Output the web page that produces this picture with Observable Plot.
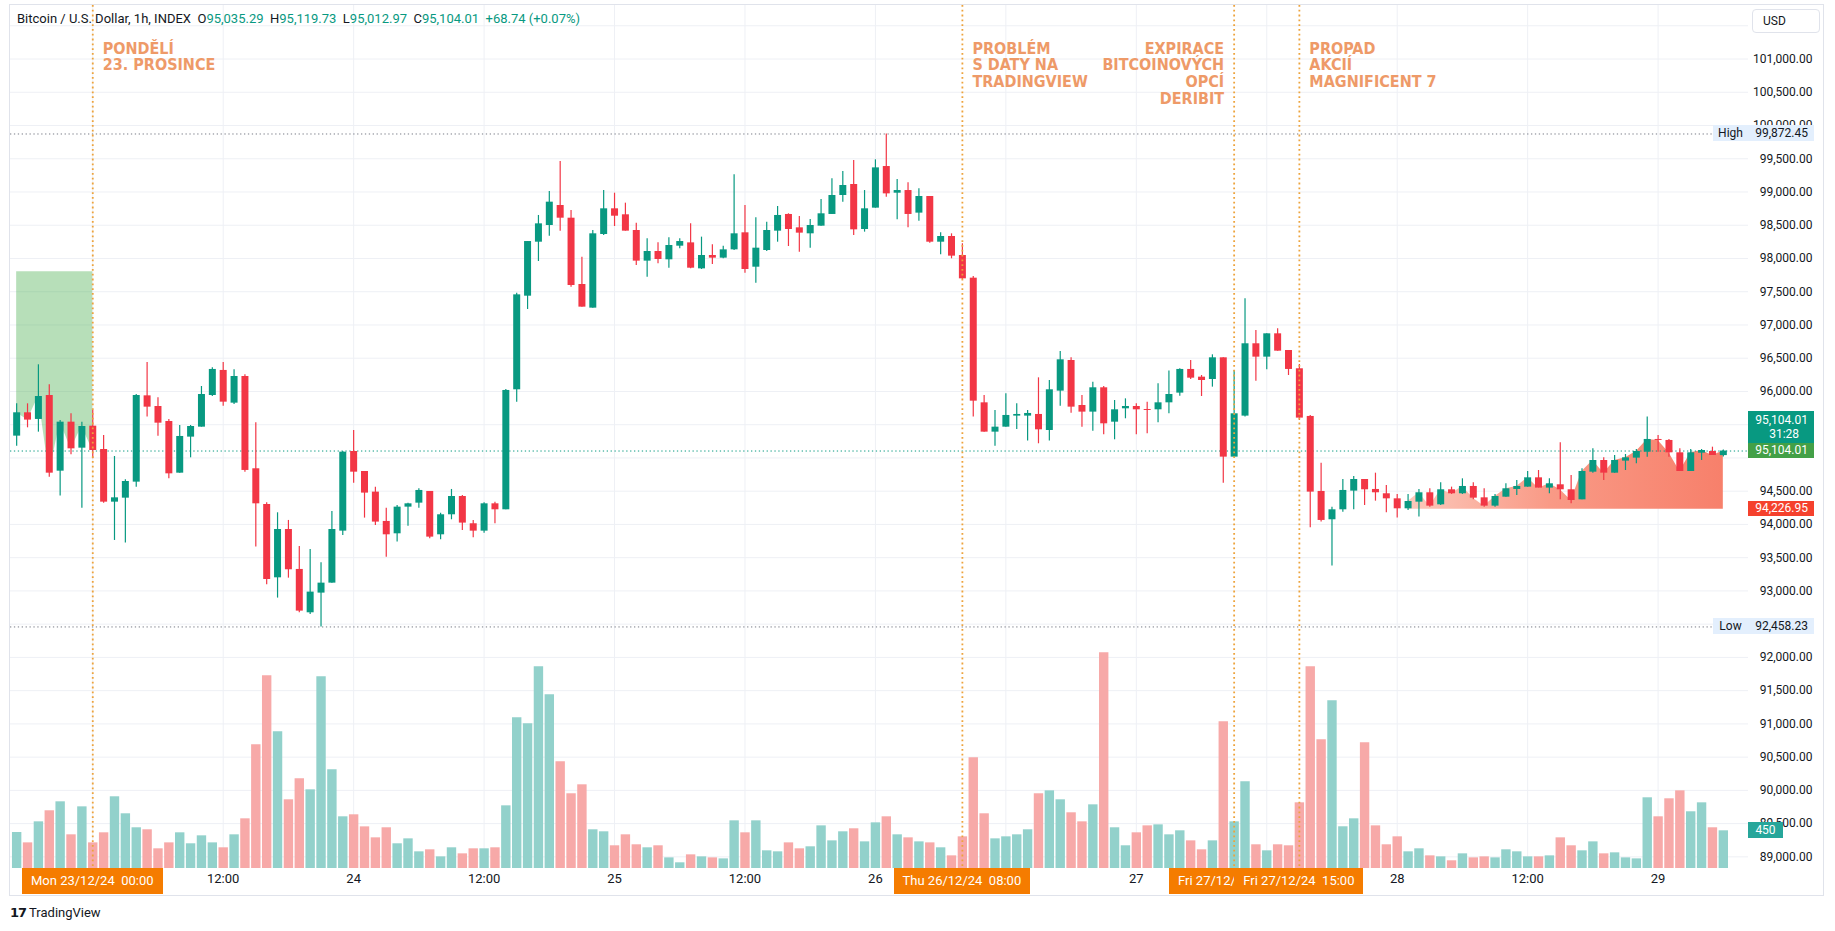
<!DOCTYPE html>
<html>
<head>
<meta charset="utf-8">
<script src="https://cdn.jsdelivr.net/npm/d3@7"></script>
<script src="https://cdn.jsdelivr.net/npm/@observablehq/plot@0.6"></script>
<style>
  html,body{margin:0;padding:0;background:#fff;}
  #wrap{position:relative;width:1835px;height:931px;overflow:hidden;font-family:Roboto,"Noto Sans",sans-serif;color:#131722;}
  #wrap > svg{position:absolute;left:0;top:0;}
  .ov{position:absolute;white-space:pre;box-sizing:border-box;}
  .plbl{position:absolute;left:1748px;width:66px;font-size:12px;height:15px;line-height:15px;text-align:right;padding-right:6px;box-sizing:border-box;white-space:pre;}
  .tbox{position:absolute;top:868px;height:26px;line-height:26px;padding:0 9px;background:#f57c00;color:#fff;font-size:13px;white-space:pre;box-sizing:border-box;overflow:hidden;}
</style>
</head>
<body>
<div id="wrap"></div>
<script>
// ---------------- data (hourly candles, Dec 22 17:00 -> Dec 29 06:00) ----------------
const opens = [95328,95679,95579,95939,94801,95538,95147,95478,95127,94335,94395,94636,95934,95774,95548,94771,95313,95463,95939,96316,95824,96225,94837,94300,93197,93924,93323,92671,92967,93117,93899,95097,94796,94486,94045,93859,94260,94320,94496,93844,94145,94420,94010,93899,94310,94220,96025,97433,98245,98496,98797,98606,97609,97253,98361,98747,98657,98421,97960,98105,97980,98185,98235,97844,98045,98005,98130,98386,97869,98120,98411,98662,98461,98371,98486,98662,98947,99113,98436,98757,99383,98982,99022,98682,98932,98245,98331,98045,97704,95829,95388,95463,95629,95629,95654,95413,96005,96466,95789,95689,96055,95538,95739,95774,95729,95724,95829,95975,96331,96215,96180,96506,95012,95629,96717,96516,96867,96616,96341,95624,94496,94070,94220,94501,94676,94526,94461,94385,94235,94335,94476,94295,94521,94461,94571,94400,94275,94410,94526,94561,94701,94546,94596,94521,94370,94786,94962,94771,94952,94997,95087,95278,95263,95077,94796,95072,95097,95035.29];
const highs = [95814,95814,96401,96100,95563,95664,95538,95714,95338,95022,94671,95954,96436,95904,95579,95488,95488,96075,96356,96436,96326,96250,95528,94325,94175,94060,93669,93624,93423,94195,95097,95413,94796,94561,94245,94285,94320,94536,94496,94170,94526,94436,94060,94325,94335,96030,97478,98255,98647,99007,99459,98722,98020,98421,99022,98982,98832,98531,98296,98235,98311,98296,98521,98321,98205,98185,99258,98797,98611,98546,98782,98672,98631,98586,98887,99198,99308,99474,99022,99484,99872.45,99188,99138,99048,98932,98386,98371,98220,97729,95939,95714,95965,95814,95714,96205,96165,96601,96506,95939,96140,96075,95864,95889,95814,95839,96115,96306,96341,96466,96240,96551,96506,96316,97393,96917,96867,96942,96616,96406,95639,94922,94260,94676,94721,94676,94771,94586,94451,94451,94526,94536,94626,94561,94686,94626,94536,94451,94611,94661,94796,94811,94686,95228,94736,94837,95137,95002,95037,95052,95127,95614,95338,95278,95137,95127,95127,95162,95119.73];
const lows = [95177,95453,95388,94711,94426,95047,94245,94987,94320,93759,93719,94561,95614,95328,94686,94771,95002,95463,95924,95779,95804,94786,93659,93092,92892,93192,92671,92646,92458.23,93117,93834,94621,94095,93984,93508,93734,93974,94245,93784,93769,94070,93909,93799,93869,94010,94220,95839,97233,97955,98336,98411,97569,97268,97253,98346,98481,98411,97895,97719,97920,97854,98145,97844,97834,97910,97995,98120,97779,97629,98105,98245,98180,98095,98155,98486,98662,98847,98346,98396,98757,98922,98581,98461,98561,98230,98055,97995,97679,95614,95388,95177,95463,95428,95253,95213,95253,95779,95674,95463,95403,95348,95273,95589,95348,95363,95528,95664,95929,96180,95924,96065,94621,95012,95614,96155,96326,96606,96240,95563,93949,94035,93373,94185,94220,94285,94350,94175,94095,94210,94110,94260,94285,94451,94451,94370,94260,94260,94410,94435,94561,94546,94461,94370,94310,94370,94771,94661,94771,94811,94912,95012,95087,95012,94796,94796,94962,95037,95012.97];
const closes = [95679,95569,95924,94771,95538,95137,95473,95112,94335,94400,94646,95939,95764,95523,94761,95323,95473,95954,96331,95839,96225,94812,94310,93172,93924,93318,92696,92982,93117,93924,95087,94786,94471,94035,93844,94260,94310,94511,93809,94145,94420,94020,93899,94310,94220,96015,97453,98255,98521,98847,98606,97594,97268,98371,98747,98636,98411,97960,98105,97985,98195,98255,97854,98045,98005,98130,98371,97834,98155,98421,98647,98436,98381,98496,98672,98947,99098,98431,98747,99363,98972,99022,98662,98932,98245,98331,98035,97694,95854,95388,95463,95639,95654,95669,95423,96025,96476,95764,95689,96055,95513,95724,95774,95724,95714,95829,95954,96331,96200,96165,96506,95012,95664,96717,96516,96867,96606,96331,95599,94486,94060,94220,94511,94676,94521,94476,94385,94235,94345,94476,94275,94521,94461,94571,94395,94275,94420,94536,94571,94701,94546,94611,94521,94360,94796,94962,94771,94962,95002,95097,95278,95263,95077,94796,95077,95112,95037,95104.01];
const volumes = [430,306,557,689,796,402,736,306,426,856,653,486,462,235,306,426,295,390,306,247,402,593,1477,2300,1632,820,1071,939,2289,1178,617,641,497,366,486,295,354,199,223,139,247,175,235,235,247,748,1799,1727,2408,2074,1274,892,999,462,438,271,402,283,247,271,127,68,163,139,127,115,569,426,569,211,199,306,235,259,509,330,438,474,318,545,617,402,366,318,306,247,151,378,1321,653,354,378,402,462,892,927,820,665,557,760,2575,486,271,426,509,521,402,450,330,223,330,1751,557,1035,283,211,283,271,784,2408,1536,2002,498,593,1500,509,283,378,199,235,151,139,92,175,127,139,127,223,199,139,139,151,366,271,211,318,175,187,127,115,844,617,832,927,677,784,486,450];

// price-axis labels shown (95,000 and 95,500 sit under the last-price tags in the reference)
const priceTicks = [89000,89500,90000,90500,91000,91500,92000,92500,93000,93500,94000,94500,96000,96500,97000,97500,98000,98500,99000,99500,100000,100500,101000];
const gridPrices = [89000,89500,90000,90500,91000,91500,92000,92500,93000,93500,94000,94500,95000,95500,96000,96500,97000,97500,98000,98500,99000,99500,100000,100500,101000,101500];
const gridTimes = [[2024,11,23,0],[2024,11,23,12],[2024,11,24,0],[2024,11,24,12],[2024,11,25,0],[2024,11,25,12],[2024,11,26,0],[2024,11,26,12],[2024,11,27,0],[2024,11,27,12],[2024,11,28,0],[2024,11,28,12],[2024,11,29,0]];
// time-axis labels visible (others are under the orange date tags)
const timeTicks = [[2024,11,23,12],[2024,11,24,0],[2024,11,24,12],[2024,11,25,0],[2024,11,25,12],[2024,11,26,0],[2024,11,27,0],[2024,11,28,0],[2024,11,28,12],[2024,11,29,0]];
const timeLabels = ["12:00","24","12:00","25","12:00","26","27","28","12:00","29"];

const eventTimes = [[2024,11,23,0],[2024,11,26,8],[2024,11,27,9],[2024,11,27,15]];
const eventNotes = ["PONDĚLÍ\n23. PROSINCE","PROBLÉM\nS DATY NA\nTRADINGVIEW","EXPIRACE\nBITCOINOVÝCH\nOPCÍ\nDERIBIT","PROPAD\nAKCIÍ\nMAGNIFICENT 7"];
const eventRightAligned = [false,false,true,false];
const eventBoxLabels = ["Mon 23/12/24  00:00","Thu 26/12/24  08:00","Fri 27/12/24  09:00","Fri 27/12/24  15:00"];

const highValue = 99872.45, lowValue = 92458.23, lastValue = 95104.01;
const greenZoneTop = 97800;       // shaded zone before Monday
const redZoneBase = 94226.95;     // shaded zone on the weekend
const greenZoneRange = [0, 8];    // candle index range
const redZoneRange = [128, 158];
const lastVolumeLabel = "450";
const countdown = "31:28";
const header = {name:"Bitcoin / U.S. Dollar, 1h, INDEX", o:"95,035.29", h:"95,119.73", l:"95,012.97", c:"95,104.01", chg:"+68.74 (+0.07%)"};

// ---------------- setup ----------------
const W = 1835, H = 931;
const ML = 10, MR = 87, MT = 5, MB = 63;
const HOUR = 3600e3;
const firstCandle = Date.UTC(2024, 11, 22, 17);
const xDomain = [new Date(Date.UTC(2024,11,22,16,26)), new Date(Date.UTC(2024,11,29,8,19))];
const yDomain = [88825, 101805];
const UP = "#089981", DOWN = "#f23645", VUP = "#92d1cb", VDOWN = "#f7a9a8";
const toDate = a => new Date(Date.UTC(...a));

const candles = opens.map((o, i) => ({
  t: new Date(firstCandle + i * HOUR), o, h: highs[i], l: lows[i], c: closes[i], v: volumes[i], up: closes[i] >= o
}));
const events = eventTimes.map((a, i) => ({t: toDate(a), note: eventNotes[i], right: eventRightAligned[i], box: eventBoxLabels[i]}));
const ticks = timeTicks.map((a, i) => ({t: toDate(a), label: timeLabels[i]}));

const base = {width: W, height: H, marginLeft: ML, marginRight: MR, marginTop: MT, marginBottom: MB,
  x: {type: "utc", domain: xDomain, axis: null}, style: {background: "transparent", overflow: "visible"}};

const wrap = document.getElementById("wrap");

// layer 1: grid
const gridPlot = Plot.plot({...base, y: {domain: yDomain, axis: null}, marks: [
  Plot.ruleY(gridPrices, {stroke: "#eef0f5"}),
  Plot.ruleX(gridTimes.map(toDate), {stroke: "#eef0f5"})
]});
wrap.appendChild(gridPlot);

// layer 2: volume
const volPlot = Plot.plot({...base, marginTop: 114, y: {domain: [0, 9000], axis: null}, color: {type: "identity"}, marks: [
  Plot.ruleX(candles, {x: "t", y1: 0, y2: "v", stroke: d => d.up ? VUP : VDOWN, strokeWidth: 9.4})
]});
wrap.appendChild(volPlot);

// layer 3: price
const annFont = "'Liberation Sans Narrow','Arial Narrow','DejaVu Sans Condensed',Roboto,sans-serif";
const pricePlot = Plot.plot({...base, y: {domain: yDomain, axis: null}, color: {type: "identity"},
  style: {background: "transparent", overflow: "visible", fontFamily: "Roboto, sans-serif"},
  marks: [
    Plot.areaY(candles.slice(...greenZoneRange), {x: "t", y1: greenZoneTop, y2: "c", fill: "#4caf50", fillOpacity: 0.4}),
    Plot.areaY(candles.slice(...redZoneRange), {x: "t", y1: redZoneBase, y2: "c", fill: "url(#salmonGrad)"}),
    Plot.ruleY([highValue, lowValue], {stroke: "#787b86", strokeDasharray: "1.3,2.6"}),
    Plot.ruleY([lastValue], {stroke: "#089981", strokeDasharray: "1.3,2.6"}),
    Plot.ruleX(candles, {x: "t", y1: "l", y2: "h", stroke: d => d.up ? UP : DOWN, strokeWidth: 1.2}),
    Plot.ruleX(candles, {x: "t", y1: "o", y2: "c", stroke: d => d.up ? UP : DOWN, strokeWidth: 7}),
    Plot.ruleX(events, {x: "t", stroke: "#eda33c", strokeWidth: 1.8, strokeDasharray: "1.8,3"}),
    Plot.text(events.filter(d => !d.right), {x: "t", text: "note", frameAnchor: "top", dx: 10, dy: 36.5, textAnchor: "start",
      lineAnchor: "top", lineHeight: 1.04, fontSize: 16, fontWeight: "bold", fill: "#ee9a68", fontFamily: annFont}),
    Plot.text(events.filter(d => d.right), {x: "t", text: "note", frameAnchor: "top", dx: -10, dy: 36.5, textAnchor: "end",
      lineAnchor: "top", lineHeight: 1.04, fontSize: 16, fontWeight: "bold", fill: "#ee9a68", fontFamily: annFont}),
    Plot.text(ticks, {x: "t", text: "label", frameAnchor: "bottom", dy: 14, fontSize: 13, fill: "#131722"}),
    Plot.text(priceTicks, {y: d => d, text: d => d3.format(",.2f")(d), frameAnchor: "right", dx: 64, textAnchor: "end", fontSize: 12, fill: "#131722"})
  ]});
const ns = "http://www.w3.org/2000/svg";
const defs = document.createElementNS(ns, "defs");
defs.innerHTML = `<linearGradient id="salmonGrad" x1="0" x2="1" y1="0" y2="0">
  <stop offset="0" stop-color="#fcc9bc"/><stop offset="0.45" stop-color="#f99a86"/><stop offset="1" stop-color="#f7806b"/></linearGradient>`;
pricePlot.insertBefore(defs, pricePlot.firstChild);
wrap.appendChild(pricePlot);

// ---------------- overlays positioned with Plot's scales ----------------
const sx = v => pricePlot.scale("x").apply(v);
const sy = v => pricePlot.scale("y").apply(v);
const svy = v => volPlot.scale("y").apply(v);
function div(cls, style, html) {
  const d = document.createElement("div");
  d.className = cls; d.setAttribute("style", style); d.innerHTML = html; wrap.appendChild(d); return d;
}
const fmt = d3.format(",.2f");

// frame
div("ov", "left:9px;top:4px;width:1815px;height:892px;border:1px solid #e0e3eb;", "");
// header
div("ov", "left:17px;top:11px;font-size:13px;line-height:16px;color:#131722;",
  `${header.name}  O<span style="color:${UP}">${header.o}</span>  H<span style="color:${UP}">${header.h}</span>  L<span style="color:${UP}">${header.l}</span>  C<span style="color:${UP}">${header.c}</span>  <span style="color:${UP}">${header.chg}</span>`);
// USD box
div("ov", "left:1752px;top:9px;width:68px;height:24px;border:1px solid #e0e3eb;border-radius:4px;font-size:12px;line-height:22px;padding-left:10px;background:#fff;", "USD");

// high / low labels
for (const [val, name] of [[highValue, "High"], [lowValue, "Low"]]) {
  const y = sy(val);
  div("ov", `left:1713px;top:${y - 8}px;width:35px;height:16px;background:#e3effd;font-size:12px;line-height:16px;text-align:center;`, name);
  div("plbl", `top:${y - 8}px;height:16px;line-height:16px;background:#e3effd;color:#131722;`, fmt(val));
}
// red zone base label
{ const y = sy(redZoneBase);
  div("plbl", `top:${y - 7.5}px;background:#f5412d;color:#fff;`, fmt(redZoneBase)); }
// last price labels
{ const y = sy(lastValue);
  div("plbl", `top:${y - 7.5}px;background:#43a047;color:#fff;`, fmt(lastValue));
  div("plbl", `top:${y - 39.5}px;height:32px;line-height:14px;padding-top:2px;background:${UP};color:#fff;`, fmt(lastValue) + "\n" + countdown + "   "); }
// last volume label
{ const y = svy(volumes[volumes.length - 1]);
  div("ov", `left:1748px;top:${y - 8}px;width:35px;height:16px;background:#26a69a;color:#fff;font-size:12px;line-height:16px;text-align:center;`, lastVolumeLabel); }

// orange time tags (a later tag covers an earlier one, as in TradingView)
const boxes = events.map(e => {
  const b = div("tbox", "left:0px;", e.box);
  const w = b.getBoundingClientRect().width;
  b.style.left = (sx(e.t) - w / 2) + "px";
  return b;
});
for (let i = 0; i < boxes.length - 1; i++) {
  const l = parseFloat(boxes[i].style.left), r = parseFloat(boxes[i + 1].style.left);
  const w = boxes[i].getBoundingClientRect().width;
  if (l + w > r) boxes[i].style.width = (r - l) + "px";
}
// logo
div("ov", "left:10px;top:904px;font-size:13px;line-height:18px;color:#131722;",
  `<b style="font-family:'DejaVu Sans',sans-serif;font-size:13px;letter-spacing:-1px">17</b> TradingView`);
</script>
</body>
</html>
